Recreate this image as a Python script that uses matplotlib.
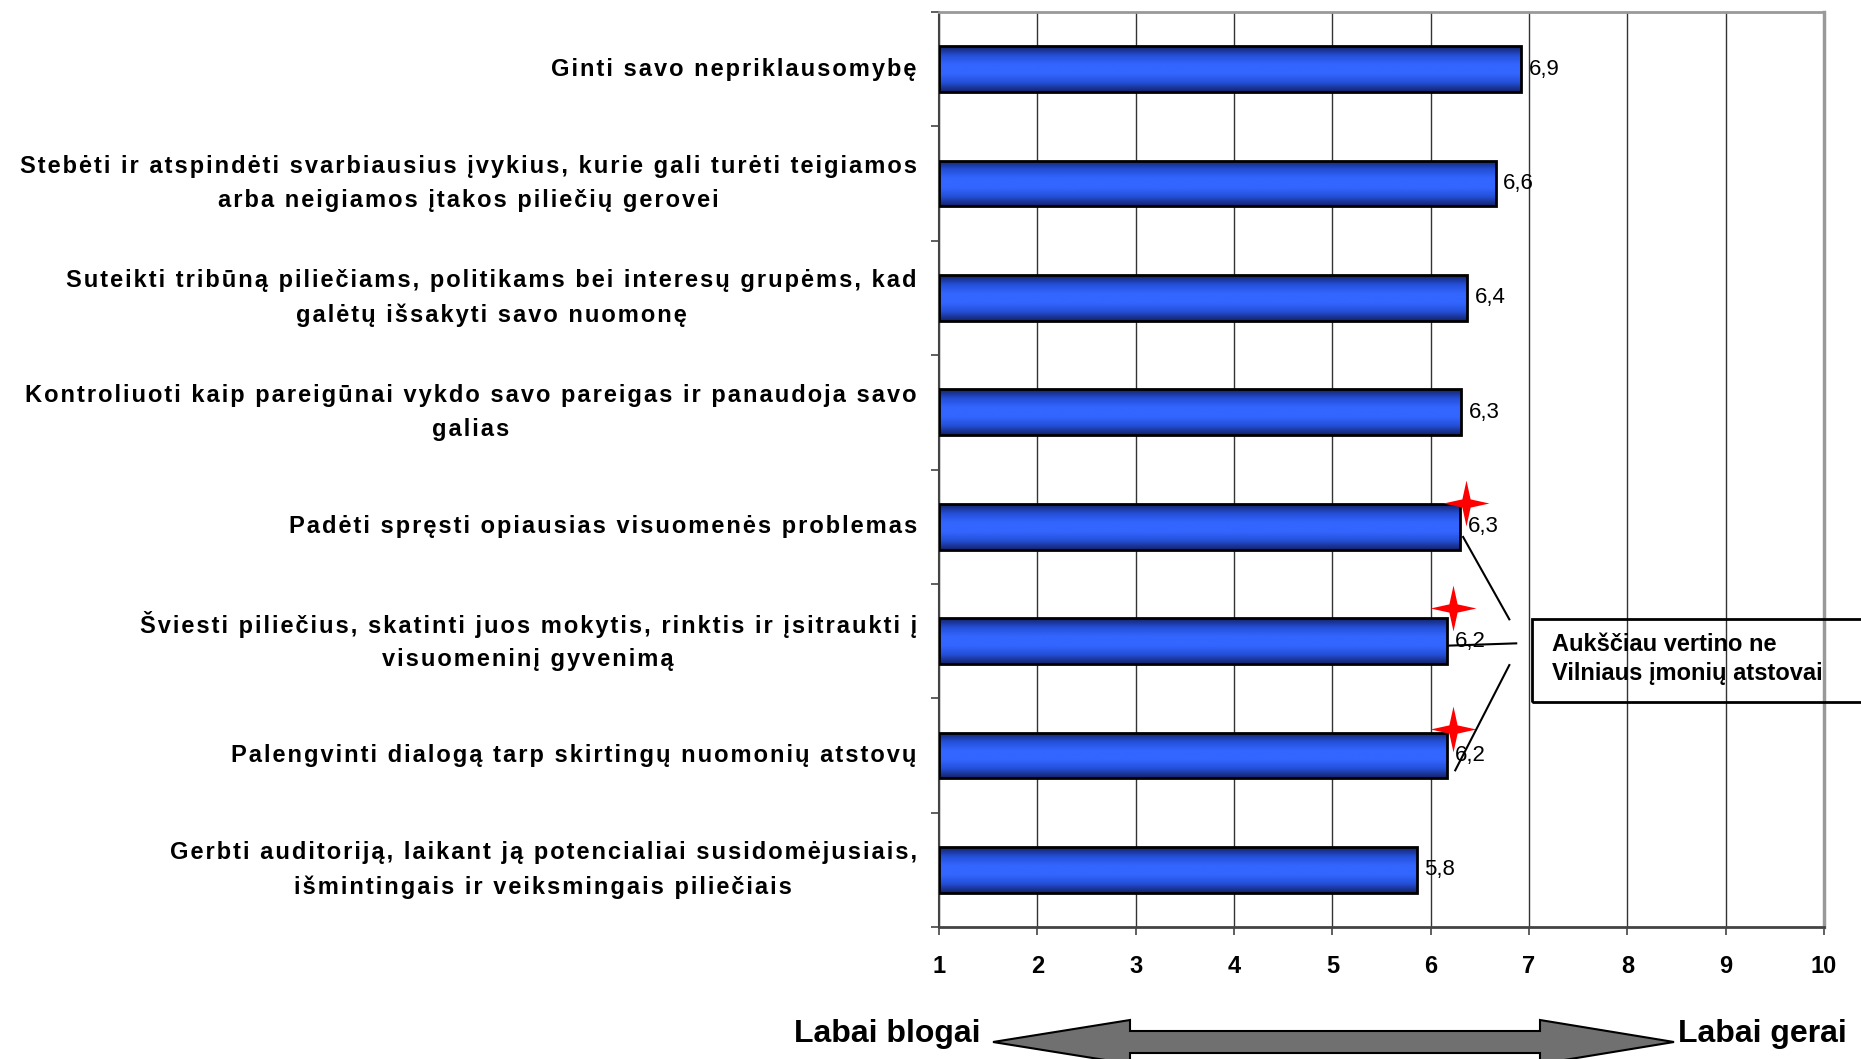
import matplotlib
matplotlib.use("Agg")
import matplotlib.pyplot as plt
import numpy as np
from matplotlib.colors import LinearSegmentedColormap
from matplotlib.patches import Polygon, Rectangle
from matplotlib.path import Path

plt.rcParams["font.family"] = ["Liberation Sans", "DejaVu Sans"]

# ---- data ----
categories = [
    "Ginti savo nepriklausomybę",
    "Stebėti ir atspindėti svarbiausius įvykius, kurie gali turėti teigiamos\narba neigiamos įtakos piliečių gerovei",
    "Suteikti tribūną piliečiams, politikams bei interesų grupėms, kad\ngalėtų išsakyti savo nuomonę",
    "Kontroliuoti kaip pareigūnai vykdo savo pareigas ir panaudoja savo\ngalias",
    "Padėti spręsti opiausias visuomenės problemas",
    "Šviesti piliečius, skatinti juos mokytis, rinktis ir įsitraukti į\nvisuomeninį gyvenimą",
    "Palengvinti dialogą tarp skirtingų nuomonių atstovų",
    "Gerbti auditoriją, laikant ją potencialiai susidomėjusiais,\nišmintingais ir veiksmingais piliečiais",
]
values = [6.92, 6.66, 6.37, 6.31, 6.30, 6.17, 6.17, 5.86]
value_labels = ["6,9", "6,6", "6,4", "6,3", "6,3", "6,2", "6,2", "5,8"]
starred = [4, 5, 6]              # bars marked with a red star
star_dy = [-0.21, -0.29, -0.23]  # star height relative to bar centre
x_ticks = list(range(1, 11))
note_text = "Aukščiau vertino ne\nVilniaus įmonių atstovai"


def spaced(s, sp="\u200a"):
    # the original uses expanded letter spacing in the category labels
    return "\n".join(sp.join(line) for line in s.split("\n"))


W, H = 1861, 1059
fig = plt.figure(figsize=(W / 100, H / 100), dpi=100)
ax = fig.add_axes([939 / W, 1 - 927 / H, (1824 - 939) / W, (927 - 12) / H])

y = np.arange(len(categories))
bar_h = 0.4

# gradient-filled bars
cmap = LinearSegmentedColormap.from_list(
    "bar", ["#14226a", "#2450d8", "#3366ff", "#3366ff", "#2450d8", "#14226a"])
grad = np.linspace(0, 1, 64).reshape(-1, 1)
bars = ax.barh(y, [v - 1 for v in values], left=1, height=bar_h,
               facecolor="none", edgecolor="black", lw=2, zorder=3)
for b, yi, v in zip(bars, y, values):
    im = ax.imshow(grad, extent=(1, v, yi + bar_h / 2, yi - bar_h / 2),
                   aspect="auto", cmap=cmap, zorder=2, interpolation="bicubic")
    im.set_clip_path(b)

for yi, v, lab in zip(y, values, value_labels):
    ax.annotate(lab, xy=(v, yi), xytext=(5.5, 0), textcoords="offset points",
                ha="left", va="center", fontsize=16, zorder=4)

# red four-point stars
star = Path([(0, 1), (0.18, 0.18), (1, 0), (0.18, -0.18), (0, -1),
             (-0.18, -0.18), (-1, 0), (-0.18, 0.18), (0, 1)],
            [Path.MOVETO] + [Path.LINETO] * 7 + [Path.CLOSEPOLY])
for i, dy in zip(starred, star_dy):
    ax.plot(values[i] + 0.06, i + dy, marker=star, ms=33, color="red",
            mec="none", zorder=5, clip_on=False)

# callout leader lines
ax.plot([values[4] + 0.03, 6.80], [4.09, 4.81], color="black", lw=1.5, zorder=5)
ax.plot([values[5] + 0.01, 6.87], [5.04, 5.02], color="black", lw=1.5, zorder=5)
ax.plot([6.80, 6.25], [5.21, 6.13], color="black", lw=1.5, zorder=5)

# axes styling
ax.set_xlim(1, 10)
ax.set_ylim(len(categories) - 0.5, -0.5)
ax.set_xticks(x_ticks)
ax.set_xticklabels([str(t) for t in x_ticks], fontsize=17, fontweight="bold")
ax.tick_params(axis="x", length=6, width=1.2, color="#444", pad=14)
ax.set_yticks(np.arange(-0.5, len(categories), 1.0))
ax.set_yticklabels([])
ax.tick_params(axis="y", length=6, width=1.2, color="#444")
ax.grid(axis="x", color="#333", lw=1, zorder=0)
ax.set_axisbelow(True)
for side, col, lw in [("left", "#444", 1.5), ("bottom", "#444", 2),
                      ("top", "#999", 2), ("right", "#999", 2.5)]:
    ax.spines[side].set_color(col)
    ax.spines[side].set_linewidth(lw)

for yi, cat in zip(y, categories):
    ax.annotate(spaced(cat), xy=(0, yi), xycoords=("axes fraction", "data"),
                xytext=(-16, 0), textcoords="offset points", ha="right",
                va="center", multialignment="center", fontsize=17,
                fontweight="bold", linespacing=1.6)

# callout box (open on the right, running off the figure)
fig.patches.append(Rectangle((1532 / W, 1 - 702 / H), 500 / W, 83 / H,
                             transform=fig.transFigure, fill=False,
                             edgecolor="black", lw=2, zorder=6))
fig.text(1552 / W, 1 - 659 / H, note_text, ha="left", va="center",
         fontsize=17, fontweight="bold", linespacing=1.3, zorder=7)

# double-headed scale arrow
arrow_px = [(993, 1042), (1130, 1020), (1130, 1031), (1540, 1031), (1540, 1020),
            (1674, 1042), (1540, 1064), (1540, 1053), (1130, 1053), (1130, 1064)]
fig.patches.append(Polygon([(x / W, 1 - yy / H) for x, yy in arrow_px],
                           closed=True, transform=fig.transFigure,
                           facecolor="#707070", edgecolor="black", lw=1.5))
fig.text(980 / W, 1 - 1034 / H, "Labai blogai", ha="right", va="center",
         fontsize=23, fontweight="bold")
fig.text(1678 / W, 1 - 1034 / H, "Labai gerai", ha="left", va="center",
         fontsize=23, fontweight="bold")

fig.savefig("out.png", dpi=100)
